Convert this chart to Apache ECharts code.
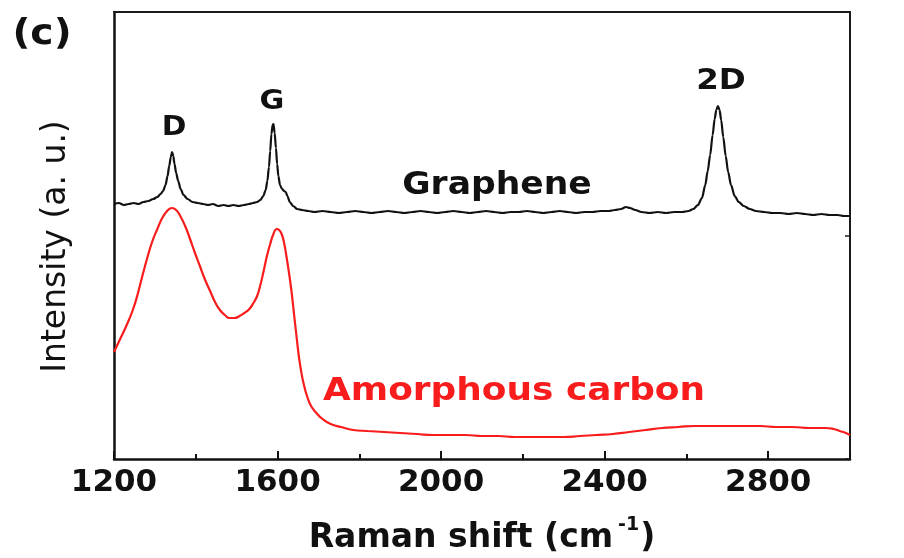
<!DOCTYPE html>
<html>
<head>
<meta charset="utf-8">
<title>Raman spectra</title>
<script src="https://cdn.jsdelivr.net/npm/echarts@6/dist/echarts.min.js"></script>
<style>
  html, body { margin: 0; padding: 0; background: #ffffff; }
  #chart { width: 904px; height: 558px; }
</style>
</head>
<body>
<div id="chart"></div>
<script>
// Raman shift axis (cm^-1)
const xRange = [1200, 3000];
const xTicks = [1200, 1600, 2000, 2400, 2800];
// Intensity axis, arbitrary units (spectra stacked with an offset)
const yRange = [0, 447];

// Graphene spectrum: D, G (with D' shoulder), small D+D'' and 2D bands
const grapheneShift = [
  1200, 1212, 1224, 1236, 1248, 1260, 1272, 1284, 1296, 1306, 1314, 1320, 1326, 1331, 1335, 1339,
  1342, 1345, 1348, 1352, 1357, 1363, 1370, 1380, 1392, 1405, 1418, 1430, 1442, 1455, 1468, 1480,
  1492, 1505, 1518, 1530, 1540, 1550, 1558, 1565, 1571, 1575, 1579, 1582, 1585, 1588, 1590, 1593,
  1596, 1599, 1602, 1606, 1611, 1616, 1620, 1624, 1630, 1638, 1648, 1660, 1675, 1690, 1710, 1730,
  1750, 1770, 1790, 1810, 1830, 1850, 1870, 1890, 1910, 1930, 1950, 1970, 1990, 2010, 2030, 2050,
  2070, 2090, 2110, 2130, 2150, 2170, 2190, 2210, 2230, 2250, 2270, 2290, 2310, 2330, 2350, 2370,
  2390, 2410, 2425, 2440, 2452, 2462, 2475, 2490, 2510, 2530, 2550, 2570, 2590, 2605, 2617, 2628,
  2638, 2646, 2652, 2658, 2664, 2669, 2673, 2677, 2681, 2685, 2690, 2696, 2702, 2709, 2718, 2728,
  2740, 2755, 2770, 2790, 2810, 2830, 2850, 2870, 2890, 2910, 2930, 2950, 2970, 2985, 3000
];
const grapheneIntensity = [
  255, 256, 254, 255, 256, 255, 257, 258, 260, 262, 265, 268, 274, 283, 293, 302,
  307, 303, 295, 286, 278, 270, 264, 260, 257, 256, 255, 254, 255, 253, 254, 253,
  254, 253, 254, 255, 256, 257, 259, 263, 269, 278, 292, 308, 325, 334, 335, 326,
  311, 295, 283, 274, 270, 268, 267, 263, 257, 253, 250, 249, 248, 247, 248, 247,
  246, 247, 248, 247, 246, 247, 248, 247, 246, 247, 248, 247, 246, 247, 248, 247,
  246, 247, 248, 247, 246, 247, 247, 248, 247, 246, 247, 248, 247, 246, 247, 247,
  248, 248, 249, 250, 252, 251, 249, 247, 246, 247, 246, 247, 247, 248, 250, 254,
  261, 274, 288, 304, 324, 340, 349, 353, 349, 339, 322, 303, 287, 274, 263, 257,
  253, 250, 248, 247, 246, 246, 245, 246, 245, 244, 245, 244, 244, 243, 243
];

// Amorphous carbon spectrum: broad D and G bands, weak second-order hump
const carbonShift = [
  1200, 1215, 1230, 1246, 1258, 1270, 1282, 1294, 1306, 1318, 1330, 1342, 1352, 1362, 1374, 1386,
  1398, 1410, 1422, 1435, 1447, 1459, 1471, 1483, 1495, 1507, 1519, 1531, 1541, 1550, 1558, 1566,
  1574, 1582, 1590, 1598, 1604, 1610, 1616, 1622, 1628, 1634, 1640, 1646, 1652, 1658, 1664, 1672,
  1682, 1695, 1710, 1730, 1755, 1785, 1820, 1860, 1900, 1940, 1980, 2020, 2060, 2100, 2140, 2180,
  2220, 2260, 2300, 2340, 2380, 2420, 2460, 2500, 2540, 2580, 2620, 2660, 2700, 2740, 2780, 2820,
  2860, 2900, 2940, 2960, 2975, 2990, 3000
];
const carbonIntensity = [
  107, 120, 133, 149, 165, 184, 202, 218, 230, 241, 248, 251, 249, 243, 233, 220,
  206, 193, 180, 168, 157, 149, 144, 141, 141, 143, 146, 150, 156, 163, 174, 188,
  203, 215, 225, 230, 229, 225, 216, 202, 186, 168, 146, 124, 103, 87, 75, 63,
  53, 46, 40, 35, 32, 29, 28, 27, 26, 25, 24, 24, 24, 23, 23, 22,
  22, 22, 22, 23, 24, 25, 27, 29, 31, 32, 33, 33, 33, 33, 33, 32,
  32, 31, 31, 30, 28, 26, 24
];

const BOLD = 'DejaVu Sans';
const pairs = (xs, ys) => xs.map((x, i) => [x, ys[i]]);
const tickStep = xTicks[1] - xTicks[0];

const chart = echarts.init(document.getElementById('chart'), null, { renderer: 'canvas' });

chart.setOption({
  animation: false,
  backgroundColor: '#ffffff',
  grid: { left: 114, right: 54, top: 12, bottom: 99, outerBoundsMode: 'none' },
  xAxis: [
    {
      type: 'value',
      position: 'bottom',
      min: xRange[0],
      max: xRange[1],
      interval: tickStep,
      axisLine: { show: true, onZero: false, lineStyle: { color: '#111', width: 2.5 } },
      axisTick: { show: true, inside: true, length: 8, lineStyle: { color: '#111', width: 2 } },
      minorTick: { show: true, splitNumber: 2, length: 5, lineStyle: { color: '#111', width: 2 } },
      axisLabel: {
        show: true,
        margin: 8,
        fontFamily: BOLD,
        fontWeight: 'bold',
        fontSize: 31,
        color: '#111',
        formatter: v => (xTicks.includes(v) ? String(v) : '')
      },
      splitLine: { show: false },
      name: 'Raman shift (cm{sup|-1})',
      nameLocation: 'middle',
      nameGap: 57,
      nameTextStyle: {
        fontFamily: BOLD,
        fontWeight: 'bold',
        fontSize: 33,
        lineHeight: 44,
        color: '#111',
        rich: {
          sup: {
            fontFamily: BOLD,
            fontWeight: 'bold',
            fontSize: 19,
            lineHeight: 14,
            verticalAlign: 'top',
            color: '#111',
            padding: [0, 1, 0, 5]
          }
        }
      }
    },
    {
      type: 'value',
      position: 'top',
      min: xRange[0],
      max: xRange[1],
      axisLine: { show: true, onZero: false, lineStyle: { color: '#1a1a1a', width: 2 } },
      axisTick: { show: false },
      axisLabel: { show: false },
      splitLine: { show: false }
    }
  ],
  yAxis: [
    {
      type: 'value',
      position: 'left',
      min: yRange[0],
      max: yRange[1],
      axisLine: { show: true, onZero: false, lineStyle: { color: '#111', width: 2.5 } },
      axisTick: { show: false },
      axisLabel: { show: false },
      splitLine: { show: false },
      name: 'Intensity (a. u.)',
      nameLocation: 'middle',
      nameRotate: 90,
      nameGap: 41,
      nameTextStyle: {
        fontFamily: 'DejaVu Sans',
        fontSize: 33,
        color: '#111',
        padding: [0, 22, 0, 0]
      }
    },
    {
      type: 'value',
      position: 'right',
      min: yRange[0],
      max: yRange[1],
      interval: (yRange[1] - yRange[0]) / 2,
      axisLine: { show: true, onZero: false, lineStyle: { color: '#1a1a1a', width: 2 } },
      axisTick: { show: true, inside: true, length: 5, lineStyle: { color: '#1a1a1a', width: 1.5 } },
      axisLabel: { show: false },
      splitLine: { show: false }
    }
  ],
  series: [
    {
      name: 'Graphene',
      type: 'line',
      xAxisIndex: 0,
      yAxisIndex: 0,
      data: pairs(grapheneShift, grapheneIntensity),
      showSymbol: false,
      smooth: 0.3,
      smoothMonotone: 'x',
      lineStyle: { color: '#111111', width: 2.2 },
      z: 3
    },
    {
      name: 'Amorphous carbon',
      type: 'line',
      xAxisIndex: 0,
      yAxisIndex: 0,
      data: pairs(carbonShift, carbonIntensity),
      showSymbol: false,
      smooth: 0.5,
      lineStyle: { color: '#f81c1c', width: 2.2 },
      z: 2
    }
  ],
  graphic: [
    { type: 'text', x: 42, y: 35, scaleX: 1.09, style: { text: '(c)', x: 0, y: 0, align: 'center', verticalAlign: 'middle', font: 'bold 36px "DejaVu Sans"', fill: '#111' } },
    { type: 'text', x: 174, y: 128, scaleX: 1.1, style: { text: 'D', x: 0, y: 0, align: 'center', verticalAlign: 'middle', font: 'bold 27px "DejaVu Sans"', fill: '#111' } },
    { type: 'text', x: 272, y: 102, scaleX: 1.12, style: { text: 'G', x: 0, y: 0, align: 'center', verticalAlign: 'middle', font: 'bold 27px "DejaVu Sans"', fill: '#111' } },
    { type: 'text', x: 721, y: 81, scaleX: 1.12, style: { text: '2D', x: 0, y: 0, align: 'center', verticalAlign: 'middle', font: 'bold 29px "DejaVu Sans"', fill: '#111' } },
    { type: 'text', x: 497, y: 186, scaleX: 1.08, style: { text: 'Graphene', x: 0, y: 0, align: 'center', verticalAlign: 'middle', font: 'bold 32px "DejaVu Sans"', fill: '#111' } },
    { type: 'text', x: 514, y: 392, scaleX: 1.14, style: { text: 'Amorphous carbon', x: 0, y: 0, align: 'center', verticalAlign: 'middle', font: 'bold 31.5px "DejaVu Sans"', fill: '#f81c1c' } }
  ]
});
</script>
</body>
</html>
